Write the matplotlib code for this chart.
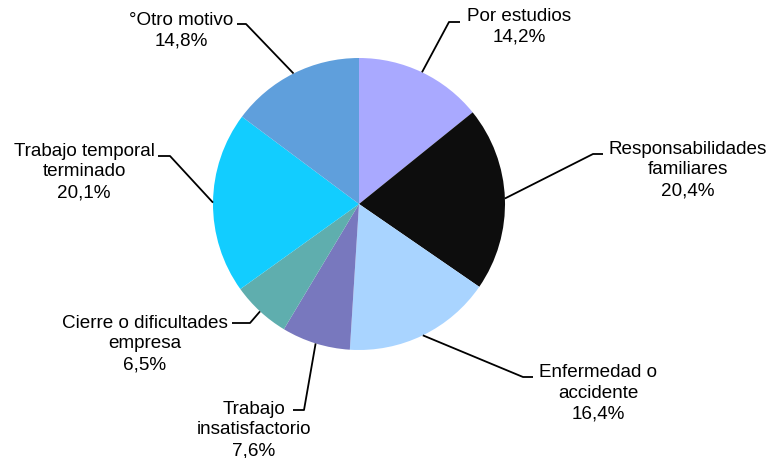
import numpy as np
import matplotlib
matplotlib.use("Agg")
import matplotlib.pyplot as plt

categories = ["Por estudios", "Responsabilidades\nfamiliares", "Enfermedad o\naccidente",
              "Trabajo\ninsatisfactorio", "Cierre o dificultades\nempresa",
              "Trabajo temporal\nterminado", "°Otro motivo"]
values = [14.2, 20.4, 16.4, 7.6, 6.5, 20.1, 14.8]
colors = ["#A9A9FF", "#0D0D0D", "#A9D4FF", "#7878BE", "#5FAEAE", "#12CDFF", "#5F9FDC"]

W, H = 771, 458
fig = plt.figure(figsize=(W / 100, H / 100), dpi=100)
ax = fig.add_axes([0, 0, 1, 1])

cx, cy, R = 359, H - 204, 146
wedges, _ = ax.pie(values, colors=colors, startangle=90, counterclock=False,
                   center=(cx, cy), radius=R, frame=True,
                   wedgeprops=dict(linewidth=0))
ax.set_xlim(0, W)
ax.set_ylim(0, H)
ax.set_aspect("equal")
ax.axis("off")

# label layout: (elbow x, elbow y, horizontal end x, text center x, text center y)
layout = [
    (449, 22, 460, 519, 27),
    (593, 154, 603, 688, 170),
    (523, 377, 533, 598, 393),
    (304, 410, 293, 254, 430),
    (250, 323, 232, 145, 344),
    (170, 156, 158, 84, 172),
    (246, 24, 237, 181, 31),
]

for w, v, lab, (ex, ey, hx, tx, ty) in zip(wedges, values, categories, layout):
    ang = np.deg2rad((w.theta1 + w.theta2) / 2)
    px = cx + R * np.cos(ang)
    py = cy + R * np.sin(ang)
    ax.plot([px, ex, hx], [py, H - ey, H - ey], color="black", lw=1.3,
            solid_capstyle="butt", zorder=3)
    txt = f"{lab}\n{v:.1f}%".replace(".", ",")
    ax.text(tx, H - ty, txt, ha="center", va="center", fontsize=13.6,
            family="Liberation Sans", linespacing=1.3, color="black")

fig.savefig("out.png", dpi=100)
